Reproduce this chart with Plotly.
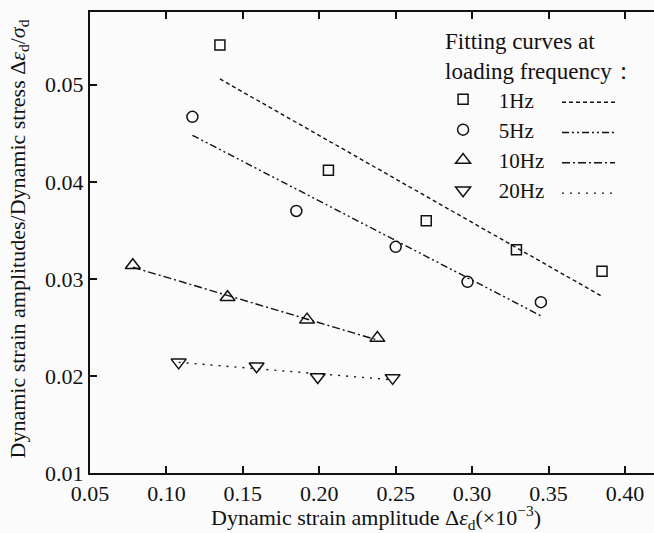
import plotly.graph_objects as go

# Measured points: dynamic strain amplitude (x1e-3) vs strain/stress ratio
freq_labels = ["1Hz", "5Hz", "10Hz", "20Hz"]

x_1hz = [0.135, 0.206, 0.270, 0.329, 0.385]
y_1hz = [0.0541, 0.0412, 0.0360, 0.0330, 0.0308]

x_5hz = [0.117, 0.185, 0.250, 0.297, 0.345]
y_5hz = [0.0467, 0.0370, 0.0333, 0.0297, 0.0276]

x_10hz = [0.078, 0.140, 0.192, 0.238]
y_10hz = [0.0314, 0.0281, 0.0258, 0.0239]

x_20hz = [0.108, 0.159, 0.199, 0.248]
y_20hz = [0.0214, 0.0210, 0.0199, 0.0198]

# Linear fitting curves (end points)
fit_x_1hz = [0.135, 0.385]
fit_y_1hz = [0.0506, 0.0282]
fit_x_5hz = [0.117, 0.345]
fit_y_5hz = [0.0448, 0.0262]
fit_x_10hz = [0.078, 0.238]
fit_y_10hz = [0.0312, 0.0237]
fit_x_20hz = [0.108, 0.248]
fit_y_20hz = [0.0214, 0.0196]

x_ticks = [0.05, 0.10, 0.15, 0.20, 0.25, 0.30, 0.35, 0.40]
y_ticks = [0.01, 0.02, 0.03, 0.04, 0.05]

FONT = "Liberation Serif"
INK = "#111111"
BG = "#fbfbfb"
NB = "\u2002\u00a0"  # gap between legend symbol and label

points = [
    (x_1hz, y_1hz, "square-open", 10),
    (x_5hz, y_5hz, "circle-open", 11),
    (x_10hz, y_10hz, "triangle-up-open", 13),
    (x_20hz, y_20hz, "triangle-down-open", 13),
]
fits = [
    (fit_x_1hz, fit_y_1hz, "4px,3px"),
    (fit_x_5hz, fit_y_5hz, "7px,3px,2px,3px,2px,3px"),
    (fit_x_10hz, fit_y_10hz, "8px,3px,2px,3px"),
    (fit_x_20hz, fit_y_20hz, "2px,6px"),
]

fig = go.Figure()

for label, (fx, fy, dash) in zip(freq_labels, fits):
    fig.add_trace(go.Scatter(
        x=fx, y=fy, mode="lines", name=" ",
        line=dict(color=INK, width=1.4, dash=dash),
        legend="legend2", showlegend=True,
    ))

for label, (px, py, sym, size) in zip(freq_labels, points):
    fig.add_trace(go.Scatter(
        x=px, y=py, mode="markers", name=NB + label,
        marker=dict(symbol=sym, size=size, color=INK, line=dict(color=INK, width=1.5)),
        legend="legend",
    ))

fig.update_layout(
    width=654, height=533,
    margin=dict(l=90, r=0, t=12, b=60),
    paper_bgcolor=BG, plot_bgcolor=BG,
    font=dict(family=FONT, size=22, color=INK),
    legend=dict(
        title=dict(text="Fitting curves at<br>loading frequency：", font=dict(size=23)),
        x=0.626, y=0.984, xanchor="left", yanchor="top",
        bgcolor="rgba(0,0,0,0)", font=dict(size=21),
        tracegroupgap=0,
    ),
    legend2=dict(
        x=0.828, y=0.848, xanchor="left", yanchor="top",
        bgcolor="rgba(0,0,0,0)", font=dict(size=21),
        itemwidth=53, tracegroupgap=0,
    ),
    xaxis=dict(
        range=[0.05, 0.419], tickvals=x_ticks, ticktext=[f"{v:.2f}" for v in x_ticks],
        ticks="inside", ticklen=7, tickwidth=1.5, tickcolor=INK,
        showline=True, linewidth=2, linecolor=INK, mirror="ticks",
        showgrid=False, zeroline=False, automargin=False,
    ),
    yaxis=dict(
        range=[0.01, 0.0575], tickvals=y_ticks, ticktext=[f"{v:.2f}" for v in y_ticks],
        ticks="inside", ticklen=7, tickwidth=1.5, tickcolor=INK,
        showline=True, linewidth=2, linecolor=INK,
        showgrid=False, zeroline=False, automargin=False,
    ),
    annotations=[
        dict(
            text="Dynamic strain amplitude Δ<i>ε</i><sub>d</sub>(×10<sup>−3</sup>)",
            xref="paper", yref="paper", x=0.5, y=0, yshift=-44, xshift=4,
            xanchor="center", yanchor="middle", showarrow=False, font=dict(size=22),
        ),
        dict(
            text="Dynamic strain amplitudes/Dynamic stress Δ<i>ε</i><sub>d</sub>/<i>σ</i><sub>d</sub>",
            xref="paper", yref="paper", x=0, y=0.5, xshift=-72, yshift=3,
            xanchor="center", yanchor="middle", textangle=-90, showarrow=False, font=dict(size=22),
        ),
    ],
)

fig.write_html("out.html")
